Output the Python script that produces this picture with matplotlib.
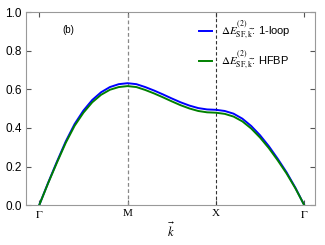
import matplotlib
matplotlib.use('Agg')
import matplotlib.pyplot as plt

# path positions: Gamma=0, M=1, X=2, Gamma=3
kpath = [0.0, 0.1, 0.2, 0.3, 0.4, 0.5, 0.6, 0.7, 0.8, 0.9, 1.0,
         1.1, 1.2, 1.3, 1.4, 1.5, 1.6, 1.7, 1.8, 1.9, 2.0,
         2.1, 2.2, 2.3, 2.4, 2.5, 2.6, 2.7, 2.8, 2.9, 3.0]
one_loop = [0.0, 0.115, 0.225, 0.33, 0.42, 0.49, 0.545, 0.585, 0.612, 0.627, 0.632,
            0.627, 0.612, 0.594, 0.574, 0.553, 0.533, 0.516, 0.503, 0.496, 0.494,
            0.488, 0.474, 0.448, 0.41, 0.362, 0.305, 0.24, 0.17, 0.09, 0.0]
hfbp = [0.0, 0.113, 0.22, 0.323, 0.411, 0.479, 0.533, 0.572, 0.598, 0.612, 0.617,
        0.612, 0.597, 0.579, 0.559, 0.538, 0.518, 0.501, 0.488, 0.481, 0.479,
        0.473, 0.459, 0.434, 0.397, 0.35, 0.295, 0.232, 0.164, 0.087, 0.0]
tick_pos = [0, 1, 2, 3]
tick_labels = [r'$\Gamma$', 'M', 'X', r'$\Gamma$']

plt.rcParams['mathtext.fontset'] = 'stix'
plt.rcParams['font.family'] = ['Liberation Sans', 'DejaVu Sans']

fig, ax = plt.subplots(figsize=(3.25, 2.45), dpi=100)
fig.subplots_adjust(left=0.08, right=0.97, top=0.95, bottom=0.163)

ax.axvline(1, color='#888888', ls='--', lw=0.9, dashes=(3, 2))
ax.axvline(2, color='#333333', ls='--', lw=0.8, dashes=(3, 2))
ax.plot(kpath, one_loop, color='blue', lw=1.4, solid_joinstyle='round',
        label=r'$\Delta E^{(2)}_{\rm SF,\vec{k}}$: 1-loop')
ax.plot(kpath, hfbp, color='green', lw=1.4, solid_joinstyle='round',
        label=r'$\Delta E^{(2)}_{\rm SF,\vec{k}}$: HFBP')

ax.set_xlim(-0.15, 3.125)
ax.set_ylim(0, 1.0)
ax.set_yticks([0, 0.2, 0.4, 0.6, 0.8, 1.0])
ax.set_yticklabels(['0.0', '0.2', '0.4', '0.6', '0.8', '1.0'])
ax.set_xticks(tick_pos)
ax.set_xticklabels(tick_labels, family='Liberation Serif', fontsize=8)
ax.tick_params(axis='y', labelsize=8.5)
ax.tick_params(direction='in', top=True, right=True,
               length=3.5, color='#555555', pad=3)
ax.set_xlabel(r'$\vec{k}$', fontsize=9, labelpad=1)
for s in ax.spines.values():
    s.set_color('#999999')

ax.text(0.125, 0.91, '(b)', transform=ax.transAxes, fontsize=7, va='center')
ax.legend(loc='upper left', bbox_to_anchor=(0.575, 1.0), frameon=False,
          fontsize=8, handlelength=1.2, borderaxespad=0.2,
          labelspacing=0.65, handletextpad=0.8)

plt.savefig('out.png', dpi=100)
